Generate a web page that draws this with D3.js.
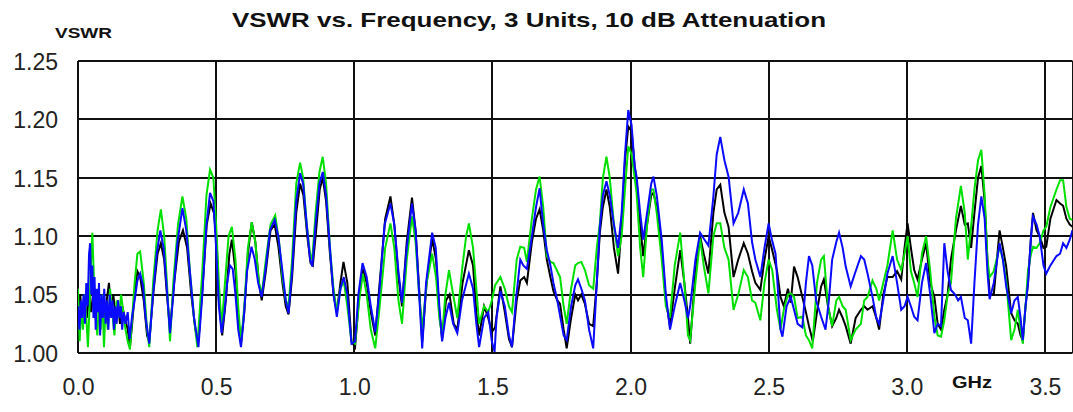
<!DOCTYPE html>
<html>
<head>
<meta charset="utf-8">
<script src="https://cdn.jsdelivr.net/npm/d3@7"></script>
<style>
  html, body { margin: 0; padding: 0; background: #fff; }
  svg { display: block; }
  text { font-family: "Liberation Sans", Arial, Helvetica, sans-serif; }
</style>
</head>
<body>
<svg id="chart" width="1073" height="412"></svg>
<script>
// ---- data ----
const titleText = "VSWR vs. Frequency, 3 Units, 10 dB Attenuation";
const yAxisTitle = "VSWR";
const xAxisTitle = "GHz";
const xTicks = [0.0, 0.5, 1.0, 1.5, 2.0, 2.5, 3.0, 3.5];
const yTicks = [1.00, 1.05, 1.10, 1.15, 1.20, 1.25];
const xDomain = [0, 3.6];
const yDomain = [1.00, 1.25];

// unit 1 (black): [GHz, VSWR]
const unitBlack = [[0.000,1.035],[0.008,1.050],[0.016,1.025],[0.024,1.045],[0.032,1.030],[0.040,1.050],[0.048,1.035],[0.056,1.055],[0.064,1.030],[0.072,1.045],[0.080,1.025],[0.088,1.050],[0.096,1.030],[0.104,1.045],[0.112,1.060],[0.120,1.035],[0.128,1.050],[0.136,1.030],[0.144,1.045],[0.152,1.025],[0.160,1.040],[0.170,1.030],[0.180,1.020],[0.188,1.005],[0.196,1.025],[0.205,1.050],[0.215,1.070],[0.225,1.065],[0.238,1.045],[0.250,1.015],[0.258,1.010],[0.272,1.050],[0.288,1.085],[0.300,1.094],[0.312,1.080],[0.322,1.050],[0.333,1.020],[0.348,1.060],[0.365,1.095],[0.380,1.105],[0.395,1.090],[0.410,1.050],[0.425,1.020],[0.436,1.010],[0.452,1.060],[0.466,1.110],[0.480,1.128],[0.492,1.120],[0.502,1.095],[0.510,1.045],[0.522,1.015],[0.535,1.045],[0.548,1.085],[0.557,1.097],[0.570,1.070],[0.580,1.030],[0.590,1.008],[0.602,1.035],[0.615,1.085],[0.629,1.112],[0.642,1.095],[0.655,1.060],[0.665,1.045],[0.680,1.070],[0.697,1.105],[0.712,1.110],[0.726,1.090],[0.740,1.060],[0.752,1.040],[0.762,1.033],[0.775,1.065],[0.790,1.120],[0.804,1.145],[0.816,1.135],[0.830,1.100],[0.842,1.077],[0.850,1.075],[0.862,1.105],[0.875,1.140],[0.886,1.150],[0.898,1.130],[0.912,1.085],[0.925,1.050],[0.937,1.035],[0.950,1.060],[0.961,1.078],[0.975,1.060],[0.990,1.010],[1.003,1.005],[1.018,1.050],[1.031,1.072],[1.045,1.060],[1.060,1.035],[1.076,1.015],[1.092,1.060],[1.112,1.115],[1.131,1.134],[1.145,1.110],[1.160,1.065],[1.173,1.040],[1.190,1.095],[1.209,1.133],[1.222,1.105],[1.235,1.055],[1.246,1.010],[1.262,1.060],[1.282,1.098],[1.296,1.080],[1.308,1.035],[1.318,1.012],[1.332,1.045],[1.345,1.050],[1.360,1.025],[1.373,1.020],[1.392,1.060],[1.415,1.088],[1.430,1.075],[1.442,1.035],[1.452,1.015],[1.470,1.040],[1.485,1.030],[1.498,1.018],[1.510,1.022],[1.529,1.057],[1.545,1.035],[1.560,1.012],[1.571,1.005],[1.588,1.045],[1.601,1.062],[1.615,1.065],[1.625,1.060],[1.643,1.095],[1.658,1.115],[1.671,1.123],[1.684,1.105],[1.697,1.080],[1.710,1.065],[1.721,1.053],[1.735,1.045],[1.745,1.042],[1.758,1.020],[1.769,1.004],[1.785,1.030],[1.800,1.050],[1.810,1.045],[1.822,1.050],[1.835,1.042],[1.850,1.025],[1.865,1.023],[1.878,1.060],[1.889,1.103],[1.900,1.125],[1.913,1.140],[1.925,1.125],[1.940,1.090],[1.955,1.068],[1.968,1.110],[1.980,1.165],[1.992,1.194],[2.004,1.190],[2.015,1.160],[2.022,1.148],[2.035,1.110],[2.046,1.083],[2.060,1.110],[2.075,1.135],[2.083,1.137],[2.095,1.125],[2.113,1.090],[2.128,1.045],[2.143,1.023],[2.160,1.055],[2.180,1.088],[2.195,1.060],[2.208,1.030],[2.216,1.008],[2.235,1.070],[2.252,1.100],[2.265,1.085],[2.282,1.068],[2.300,1.120],[2.312,1.140],[2.325,1.144],[2.340,1.120],[2.355,1.108],[2.373,1.065],[2.390,1.080],[2.410,1.094],[2.425,1.085],[2.440,1.070],[2.452,1.060],[2.470,1.054],[2.485,1.080],[2.500,1.100],[2.513,1.088],[2.530,1.071],[2.543,1.048],[2.555,1.040],[2.570,1.055],[2.580,1.043],[2.592,1.074],[2.605,1.065],[2.622,1.048],[2.635,1.035],[2.646,1.023],[2.660,1.010],[2.675,1.035],[2.690,1.057],[2.700,1.063],[2.715,1.040],[2.730,1.023],[2.745,1.030],[2.755,1.037],[2.768,1.030],[2.779,1.023],[2.797,1.008],[2.815,1.030],[2.834,1.037],[2.846,1.040],[2.858,1.037],[2.876,1.040],[2.890,1.030],[2.900,1.020],[2.915,1.050],[2.930,1.065],[2.949,1.065],[2.965,1.070],[2.980,1.063],[2.992,1.090],[3.003,1.111],[3.015,1.090],[3.027,1.071],[3.039,1.063],[3.055,1.080],[3.070,1.094],[3.085,1.060],[3.100,1.048],[3.112,1.025],[3.124,1.020],[3.136,1.037],[3.148,1.050],[3.160,1.080],[3.178,1.105],[3.196,1.126],[3.210,1.110],[3.221,1.111],[3.233,1.090],[3.245,1.120],[3.258,1.150],[3.270,1.160],[3.282,1.130],[3.292,1.080],[3.300,1.051],[3.315,1.050],[3.336,1.105],[3.348,1.090],[3.360,1.074],[3.378,1.034],[3.390,1.028],[3.402,1.025],[3.412,1.015],[3.420,1.011],[3.430,1.040],[3.439,1.060],[3.450,1.100],[3.457,1.120],[3.470,1.105],[3.481,1.100],[3.495,1.090],[3.505,1.091],[3.520,1.115],[3.542,1.131],[3.555,1.128],[3.566,1.126],[3.578,1.115],[3.590,1.110],[3.600,1.108]];

// unit 2 (green)
const unitGreen = [[0.000,1.055],[0.006,1.010],[0.012,1.040],[0.018,1.020],[0.024,1.050],[0.030,1.030],[0.036,1.005],[0.042,1.040],[0.048,1.085],[0.052,1.103],[0.058,1.060],[0.064,1.030],[0.070,1.015],[0.076,1.045],[0.082,1.020],[0.088,1.050],[0.094,1.005],[0.100,1.040],[0.108,1.020],[0.116,1.055],[0.124,1.035],[0.132,1.015],[0.140,1.045],[0.148,1.030],[0.156,1.050],[0.164,1.035],[0.172,1.020],[0.180,1.010],[0.188,1.003],[0.196,1.030],[0.205,1.060],[0.215,1.085],[0.225,1.087],[0.238,1.060],[0.250,1.020],[0.258,1.005],[0.272,1.060],[0.288,1.105],[0.300,1.123],[0.312,1.100],[0.322,1.060],[0.333,1.010],[0.345,1.060],[0.362,1.110],[0.378,1.134],[0.392,1.115],[0.405,1.070],[0.420,1.030],[0.432,1.005],[0.450,1.070],[0.465,1.135],[0.478,1.157],[0.490,1.150],[0.500,1.110],[0.510,1.060],[0.520,1.022],[0.532,1.060],[0.545,1.100],[0.557,1.108],[0.570,1.080],[0.580,1.040],[0.590,1.008],[0.602,1.040],[0.615,1.090],[0.629,1.112],[0.642,1.095],[0.655,1.060],[0.665,1.050],[0.680,1.080],[0.697,1.110],[0.714,1.118],[0.728,1.095],[0.740,1.065],[0.752,1.045],[0.762,1.040],[0.775,1.080],[0.790,1.145],[0.804,1.163],[0.815,1.150],[0.828,1.110],[0.840,1.085],[0.848,1.080],[0.860,1.120],[0.874,1.155],[0.886,1.168],[0.898,1.145],[0.912,1.090],[0.925,1.055],[0.937,1.035],[0.950,1.055],[0.962,1.062],[0.975,1.040],[0.990,1.010],[1.003,1.008],[1.018,1.045],[1.031,1.068],[1.045,1.050],[1.060,1.020],[1.076,1.004],[1.092,1.040],[1.112,1.090],[1.131,1.111],[1.145,1.090],[1.160,1.045],[1.173,1.025],[1.190,1.080],[1.209,1.117],[1.222,1.095],[1.235,1.050],[1.246,1.020],[1.262,1.060],[1.282,1.085],[1.296,1.065],[1.308,1.030],[1.318,1.015],[1.330,1.050],[1.343,1.071],[1.358,1.050],[1.373,1.030],[1.392,1.075],[1.405,1.100],[1.415,1.111],[1.430,1.090],[1.442,1.055],[1.452,1.025],[1.470,1.040],[1.485,1.035],[1.498,1.045],[1.510,1.058],[1.529,1.065],[1.545,1.055],[1.560,1.040],[1.571,1.035],[1.588,1.080],[1.601,1.091],[1.615,1.090],[1.625,1.078],[1.643,1.115],[1.658,1.140],[1.671,1.151],[1.684,1.125],[1.697,1.083],[1.710,1.078],[1.721,1.077],[1.735,1.070],[1.745,1.065],[1.758,1.040],[1.769,1.025],[1.785,1.055],[1.800,1.075],[1.810,1.077],[1.822,1.078],[1.835,1.071],[1.850,1.058],[1.865,1.055],[1.878,1.090],[1.889,1.111],[1.900,1.150],[1.913,1.168],[1.925,1.150],[1.940,1.110],[1.955,1.083],[1.968,1.100],[1.980,1.140],[1.992,1.177],[2.004,1.170],[2.015,1.150],[2.022,1.137],[2.035,1.090],[2.046,1.065],[2.060,1.110],[2.075,1.140],[2.083,1.140],[2.095,1.120],[2.113,1.080],[2.128,1.040],[2.143,1.030],[2.160,1.075],[2.180,1.103],[2.195,1.060],[2.208,1.015],[2.216,1.011],[2.235,1.060],[2.252,1.098],[2.265,1.075],[2.282,1.051],[2.300,1.100],[2.312,1.111],[2.325,1.111],[2.340,1.090],[2.355,1.080],[2.373,1.037],[2.390,1.050],[2.410,1.071],[2.425,1.065],[2.440,1.045],[2.452,1.043],[2.470,1.028],[2.485,1.060],[2.500,1.080],[2.513,1.071],[2.530,1.037],[2.543,1.020],[2.555,1.037],[2.570,1.050],[2.580,1.051],[2.592,1.048],[2.605,1.030],[2.622,1.031],[2.635,1.015],[2.646,1.011],[2.658,1.004],[2.675,1.060],[2.690,1.080],[2.700,1.083],[2.715,1.040],[2.730,1.023],[2.745,1.045],[2.755,1.048],[2.768,1.040],[2.779,1.037],[2.797,1.011],[2.815,1.020],[2.834,1.025],[2.846,1.045],[2.858,1.048],[2.876,1.062],[2.890,1.055],[2.900,1.045],[2.915,1.060],[2.930,1.075],[2.949,1.105],[2.965,1.080],[2.980,1.071],[2.992,1.085],[3.003,1.100],[3.015,1.070],[3.027,1.060],[3.039,1.048],[3.055,1.085],[3.070,1.100],[3.085,1.070],[3.100,1.031],[3.112,1.015],[3.124,1.014],[3.136,1.028],[3.148,1.050],[3.160,1.060],[3.178,1.115],[3.196,1.143],[3.210,1.120],[3.221,1.080],[3.233,1.108],[3.245,1.140],[3.258,1.165],[3.270,1.174],[3.282,1.135],[3.292,1.080],[3.300,1.065],[3.315,1.070],[3.336,1.091],[3.348,1.080],[3.360,1.062],[3.378,1.011],[3.390,1.020],[3.402,1.037],[3.412,1.020],[3.420,1.008],[3.430,1.040],[3.439,1.071],[3.450,1.085],[3.457,1.091],[3.470,1.090],[3.481,1.094],[3.495,1.105],[3.505,1.108],[3.520,1.125],[3.542,1.140],[3.555,1.148],[3.566,1.148],[3.578,1.125],[3.590,1.115],[3.600,1.114]];

// unit 3 (blue)
const unitBlue = [[0.000,1.040],[0.005,1.020],[0.010,1.045],[0.015,1.030],[0.020,1.050],[0.025,1.025],[0.030,1.060],[0.035,1.040],[0.040,1.085],[0.044,1.094],[0.048,1.050],[0.052,1.075],[0.056,1.030],[0.060,1.065],[0.064,1.020],[0.068,1.055],[0.072,1.035],[0.076,1.060],[0.080,1.015],[0.085,1.050],[0.090,1.030],[0.095,1.055],[0.100,1.025],[0.105,1.045],[0.110,1.020],[0.115,1.050],[0.120,1.030],[0.125,1.045],[0.130,1.020],[0.135,1.040],[0.140,1.025],[0.145,1.045],[0.150,1.030],[0.155,1.040],[0.160,1.020],[0.165,1.035],[0.172,1.025],[0.180,1.035],[0.187,1.012],[0.195,1.030],[0.205,1.045],[0.215,1.062],[0.225,1.068],[0.235,1.058],[0.245,1.030],[0.258,1.008],[0.270,1.045],[0.285,1.085],[0.298,1.105],[0.310,1.090],[0.320,1.060],[0.333,1.017],[0.345,1.050],[0.360,1.095],[0.378,1.124],[0.392,1.105],[0.405,1.070],[0.420,1.030],[0.436,1.005],[0.450,1.050],[0.465,1.110],[0.478,1.137],[0.490,1.130],[0.500,1.090],[0.510,1.040],[0.520,1.017],[0.530,1.035],[0.540,1.060],[0.550,1.075],[0.560,1.072],[0.570,1.050],[0.580,1.020],[0.590,1.005],[0.600,1.030],[0.612,1.070],[0.628,1.091],[0.640,1.080],[0.652,1.060],[0.665,1.048],[0.678,1.070],[0.695,1.105],[0.712,1.114],[0.725,1.100],[0.740,1.070],[0.752,1.045],[0.762,1.034],[0.775,1.070],[0.790,1.130],[0.804,1.154],[0.815,1.145],[0.828,1.110],[0.840,1.080],[0.848,1.074],[0.860,1.110],[0.874,1.145],[0.886,1.155],[0.898,1.135],[0.912,1.090],[0.925,1.050],[0.937,1.031],[0.950,1.055],[0.962,1.065],[0.975,1.050],[0.990,1.008],[1.003,1.010],[1.015,1.050],[1.030,1.077],[1.045,1.065],[1.060,1.040],[1.076,1.018],[1.090,1.050],[1.110,1.110],[1.131,1.128],[1.145,1.110],[1.160,1.070],[1.173,1.043],[1.190,1.090],[1.209,1.128],[1.222,1.105],[1.235,1.050],[1.246,1.004],[1.260,1.060],[1.282,1.103],[1.295,1.090],[1.308,1.040],[1.318,1.010],[1.330,1.030],[1.343,1.043],[1.358,1.025],[1.373,1.017],[1.390,1.045],[1.415,1.068],[1.430,1.055],[1.442,1.025],[1.452,1.005],[1.470,1.030],[1.485,1.035],[1.498,1.010],[1.508,1.001],[1.515,1.030],[1.529,1.053],[1.545,1.040],[1.560,1.015],[1.571,1.005],[1.585,1.045],[1.601,1.080],[1.612,1.075],[1.625,1.072],[1.643,1.100],[1.658,1.125],[1.671,1.141],[1.684,1.110],[1.697,1.088],[1.710,1.075],[1.721,1.060],[1.735,1.045],[1.745,1.032],[1.758,1.015],[1.769,1.011],[1.785,1.040],[1.800,1.058],[1.810,1.063],[1.822,1.055],[1.835,1.045],[1.850,1.020],[1.865,1.004],[1.878,1.060],[1.889,1.108],[1.900,1.135],[1.913,1.147],[1.925,1.135],[1.940,1.110],[1.955,1.090],[1.968,1.120],[1.980,1.170],[1.992,1.208],[2.004,1.195],[2.015,1.160],[2.022,1.151],[2.035,1.120],[2.046,1.097],[2.060,1.120],[2.075,1.145],[2.083,1.151],[2.095,1.135],[2.113,1.097],[2.128,1.050],[2.143,1.020],[2.160,1.040],[2.180,1.060],[2.195,1.045],[2.208,1.030],[2.216,1.040],[2.235,1.080],[2.252,1.103],[2.265,1.098],[2.282,1.092],[2.300,1.134],[2.312,1.170],[2.325,1.185],[2.340,1.165],[2.355,1.151],[2.373,1.111],[2.390,1.120],[2.410,1.140],[2.425,1.128],[2.440,1.095],[2.452,1.080],[2.470,1.065],[2.485,1.090],[2.500,1.111],[2.512,1.097],[2.525,1.085],[2.543,1.020],[2.550,1.014],[2.565,1.040],[2.580,1.048],[2.592,1.037],[2.605,1.025],[2.622,1.022],[2.635,1.060],[2.646,1.083],[2.658,1.075],[2.672,1.045],[2.690,1.031],[2.706,1.020],[2.718,1.045],[2.730,1.080],[2.745,1.095],[2.755,1.103],[2.768,1.090],[2.779,1.074],[2.797,1.057],[2.815,1.070],[2.834,1.083],[2.846,1.080],[2.858,1.068],[2.876,1.048],[2.890,1.030],[2.900,1.025],[2.915,1.045],[2.930,1.068],[2.949,1.083],[2.965,1.060],[2.980,1.037],[2.992,1.040],[3.003,1.048],[3.015,1.040],[3.027,1.031],[3.039,1.028],[3.055,1.060],[3.070,1.077],[3.085,1.050],[3.100,1.017],[3.112,1.025],[3.124,1.023],[3.136,1.094],[3.148,1.070],[3.160,1.054],[3.175,1.050],[3.186,1.045],[3.196,1.048],[3.210,1.030],[3.221,1.028],[3.233,1.008],[3.245,1.060],[3.258,1.110],[3.270,1.134],[3.282,1.115],[3.292,1.070],[3.300,1.046],[3.315,1.060],[3.336,1.094],[3.348,1.080],[3.360,1.057],[3.378,1.034],[3.390,1.045],[3.402,1.048],[3.412,1.030],[3.420,1.011],[3.430,1.040],[3.439,1.060],[3.450,1.100],[3.457,1.117],[3.470,1.110],[3.481,1.100],[3.495,1.075],[3.505,1.068],[3.520,1.075],[3.542,1.083],[3.555,1.085],[3.566,1.094],[3.578,1.090],[3.590,1.097],[3.600,1.105]];

const seriesList = [
  { name: "Unit 1", values: unitBlack, color: "#000000" },
  { name: "Unit 2", values: unitGreen, color: "#00e000" },
  { name: "Unit 3", values: unitBlue,  color: "#0a0aff" }
];

// ---- drawing ----
const svg = d3.select("#chart");
const margin = { left: 78, top: 61, right: 1072.5, bottom: 353 };

const x = d3.scaleLinear().domain(xDomain).range([margin.left, margin.right]);
const y = d3.scaleLinear().domain(yDomain).range([margin.bottom, margin.top]);

svg.append("rect").attr("width", 1073).attr("height", 412).attr("fill", "#fff");

svg.append("defs").append("clipPath").attr("id", "plotClip")
  .append("rect")
  .attr("x", margin.left).attr("y", margin.top - 2)
  .attr("width", margin.right - margin.left).attr("height", margin.bottom - margin.top + 2);

// grid
const grid = svg.append("g").attr("stroke", "#111").attr("stroke-width", 2).attr("fill", "none");
grid.selectAll("line.h").data(yTicks).join("line").attr("class", "h")
  .attr("x1", margin.left).attr("x2", margin.right)
  .attr("y1", d => Math.round(y(d))).attr("y2", d => Math.round(y(d)));
grid.selectAll("line.v").data(xTicks.concat([xDomain[1]])).join("line").attr("class", "v")
  .attr("y1", margin.top).attr("y2", margin.bottom)
  .attr("x1", d => Math.round(x(d))).attr("x2", d => Math.round(x(d)));

// series
const line = d3.line().x(d => x(d[0])).y(d => y(d[1])).curve(d3.curveLinear);
svg.append("g").attr("clip-path", "url(#plotClip)")
  .selectAll("path").data(seriesList).join("path")
  .attr("d", d => line(d.values))
  .attr("fill", "none")
  .attr("stroke", d => d.color)
  .attr("stroke-width", 2)
  .attr("stroke-linejoin", "miter");

// axes labels via d3 axes (domain/tick lines hidden)
const yAxis = d3.axisLeft(y).tickValues(yTicks).tickFormat(d3.format(".2f")).tickSize(0).tickPadding(0);
const yg = svg.append("g").attr("transform", "translate(58,0)").call(yAxis);
yg.select(".domain").remove();
yg.selectAll("text").attr("font-size", 23).attr("fill", "#222")
  .attr("font-family", "'Liberation Sans', Arial, sans-serif").attr("dy", "0.36em");

const xAxis = d3.axisBottom(x).tickValues(xTicks).tickFormat(d3.format(".1f")).tickSize(0).tickPadding(0);
const xg = svg.append("g").attr("transform", "translate(0,379)").call(xAxis);
xg.select(".domain").remove();
xg.selectAll("text").attr("font-size", 23).attr("fill", "#222")
  .attr("font-family", "'Liberation Sans', Arial, sans-serif").attr("dy", "0.71em");

// titles
svg.append("text").attr("x", 232).attr("y", 27)
  .attr("font-size", 21).attr("font-weight", "bold").attr("fill", "#111")
  .attr("textLength", 594).attr("lengthAdjust", "spacingAndGlyphs")
  .text(titleText);
svg.append("text").attr("x", 55).attr("y", 38)
  .attr("font-size", 15).attr("font-weight", "bold").attr("fill", "#111")
  .attr("textLength", 57).attr("lengthAdjust", "spacingAndGlyphs")
  .text(yAxisTitle);
svg.append("text").attr("x", 952).attr("y", 388)
  .attr("font-size", 16).attr("font-weight", "bold").attr("fill", "#111")
  .attr("textLength", 40).attr("lengthAdjust", "spacingAndGlyphs")
  .text(xAxisTitle);
</script>
</body>
</html>
